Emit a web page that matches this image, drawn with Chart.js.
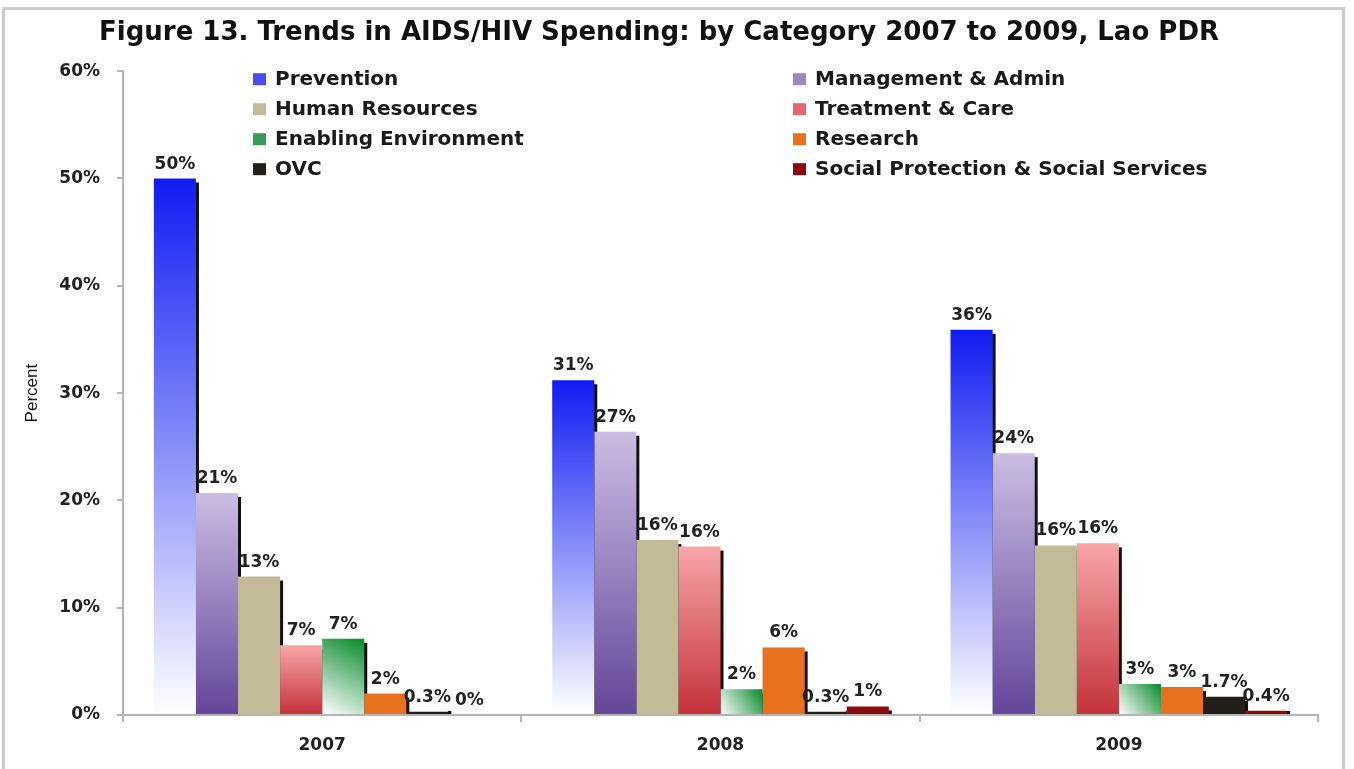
<!DOCTYPE html>
<html><head><meta charset="utf-8">
<script src="https://cdn.jsdelivr.net/npm/chart.js@4.4.0/dist/chart.umd.min.js"></script>
<style>
html,body{margin:0;padding:0;background:#fff;}
#wrap{position:relative;width:1354px;height:769px;overflow:hidden;background:#fff;}
#frame{position:absolute;left:2px;top:7px;width:1343px;height:800px;border:3px solid #cbcbcb;box-sizing:border-box;}
canvas{position:absolute;left:0;top:0;}
</style></head><body>
<div id="wrap"><div id="frame"></div><canvas id="c" width="1354" height="769"></canvas></div>
<script>
// ---- data ----
const years = ['2007', '2008', '2009'];
const seriesNames = ['Prevention', 'Management & Admin', 'Human Resources', 'Treatment & Care',
  'Enabling Environment', 'Research', 'OVC', 'Social Protection & Social Services'];
const prevention       = [50.0, 31.2, 35.9];
const managementAdmin  = [20.7, 26.4, 24.4];
const humanResources   = [12.9, 16.3, 15.8];
const treatmentCare    = [6.5, 15.7, 16.0];
const enablingEnv      = [7.1, 2.4, 2.9];
const research         = [2.0, 6.3, 2.6];
const ovc              = [0.3, 0.3, 1.7];
const socialProtection = [0.0, 0.8, 0.4];
const preventionLabels       = ['50%', '31%', '36%'];
const managementAdminLabels  = ['21%', '27%', '24%'];
const humanResourcesLabels   = ['13%', '16%', '16%'];
const treatmentCareLabels    = ['7%', '16%', '16%'];
const enablingEnvLabels      = ['7%', '2%', '3%'];
const researchLabels         = ['2%', '6%', '3%'];
const ovcLabels              = ['0.3%', '0.3%', '1.7%'];
const socialProtectionLabels = ['0%', '1%', '0.4%'];
const yTickValues = [0, 10, 20, 30, 40, 50, 60];
const chartTitle = 'Figure 13. Trends in AIDS/HIV Spending: by Category 2007 to 2009, Lao PDR';

const seriesValues = [prevention, managementAdmin, humanResources, treatmentCare, enablingEnv, research, ovc, socialProtection];
const seriesLabels = [preventionLabels, managementAdminLabels, humanResourcesLabels, treatmentCareLabels, enablingEnvLabels, researchLabels, ovcLabels, socialProtectionLabels];

// ---- styles ----
// gradient: [type, colorA, colorB]  'v' = top->bottom, 'd' = top-right -> bottom-left, 's' = solid
const fills = [
  ['v', '#0f1cf2', '#ffffff'],
  ['v', '#cbbde3', '#64469a'],
  ['s', '#c3bb97'],
  ['v', '#f7a6a8', '#c4323a'],
  ['d', '#078a2c', '#ffffff'],
  ['s', '#e8711f'],
  ['s', '#221e19'],
  ['s', '#8a0a0e']
];
const legendColors = ['#4a4cf4', '#9c86c4', '#c3bb97', '#e0686e', '#3a9c5a', '#e8711f', '#221e19', '#8a0a0e'];
const FONT = 'DejaVu Sans';

const barStylePlugin = {
  id: 'barStyle',
  beforeDatasetsDraw(chart) {
    const c = chart.ctx;
    chart.data.datasets.forEach((ds, di) => {
      const meta = chart.getDatasetMeta(di);
      meta.data.forEach((el) => {
        const f = fills[di];
        const left = el.x - el.width / 2, right = el.x + el.width / 2;
        let bg;
        if (f[0] === 's' || el.base - el.y < 1) bg = f[1];
        else if (f[0] === 'v') {
          bg = c.createLinearGradient(0, el.y, 0, el.base);
          bg.addColorStop(0, f[1]); bg.addColorStop(1, f[2]);
        } else {
          bg = c.createLinearGradient(right, el.y, left, el.base);
          bg.addColorStop(0, f[1]); bg.addColorStop(1, f[2]);
        }
        el.options = Object.assign({}, el.options, {backgroundColor: bg});
      });
    });
    // drop shadows (drawn before bars so next bar covers them)
    c.save();
    c.fillStyle = '#111';
    chart.data.datasets.forEach((ds, di) => {
      const meta = chart.getDatasetMeta(di);
      meta.data.forEach((el) => {
        if (el.base - el.y < 0.5) return;
        const right = el.x + el.width / 2;
        const top = Math.min(el.y + 4, el.base - 3);
        c.fillRect(right - 0.5, top, 3.5, el.base - top);
      });
    });
    c.restore();
  },
  afterDatasetsDraw(chart) {
    const c = chart.ctx;
    c.save();
    c.font = 'bold 17px "' + FONT + '"';
    c.fillStyle = '#222';
    c.textAlign = 'center';
    c.textBaseline = 'alphabetic';
    chart.data.datasets.forEach((ds, di) => {
      const meta = chart.getDatasetMeta(di);
      meta.data.forEach((el, i) => {
        c.fillText(seriesLabels[di][i], el.x, el.y - 10);
      });
    });
    c.restore();
  },
  afterDraw(chart) {
    const c = chart.ctx;
    const a = chart.chartArea;
    c.save();
    c.font = 'bold 20px "' + FONT + '"';
    c.textAlign = 'left';
    c.textBaseline = 'middle';
    const colX = [a.left + 130, a.left + 670];
    const rowY = [a.top + 8, a.top + 38, a.top + 68, a.top + 98];
    seriesNames.forEach((n, i) => {
      const x = colX[i % 2], y = rowY[Math.floor(i / 2)];
      c.fillStyle = legendColors[i];
      c.fillRect(x, y - 6, 13, 12);
      c.fillStyle = '#1a1a1a';
      c.fillText(n, x + 22, y + 1);
    });
    c.restore();
  }
};

const datasets = seriesNames.map((n, i) => ({
  label: n,
  data: seriesValues[i],
  backgroundColor: fills[i][1],
  borderWidth: 0,
  barPercentage: 1,
  categoryPercentage: 0.845
}));

new Chart(document.getElementById('c'), {
  type: 'bar',
  data: {labels: years, datasets},
  plugins: [barStylePlugin],
  options: {
    responsive: false,
    animation: false,
    layout: {padding: {left: 0, right: 36, top: 0, bottom: 0}},
    plugins: {
      legend: {display: false},
      tooltip: {enabled: false},
      title: {
        display: true, text: chartTitle, color: '#111',
        font: {family: FONT, size: 26, weight: 'bold'},
        padding: {top: 18, bottom: 22}
      }
    },
    scales: {
      x: {
        grid: {display: true, drawOnChartArea: false, drawTicks: true, tickLength: 7, color: '#b5b5b5', lineWidth: 2, offset: true},
        border: {color: '#b5b5b5', width: 2},
        ticks: {color: '#222', font: {family: FONT, size: 17, weight: 'bold'}, padding: 13},
        afterFit: (s) => { s.height = 54; }
      },
      y: {
        min: 0, max: 60,
        afterBuildTicks: (s) => { s.ticks = yTickValues.map(v => ({value: v})); },
        grid: {display: true, drawOnChartArea: false, drawTicks: true, tickLength: 6, color: '#b5b5b5', lineWidth: 2},
        border: {color: '#b5b5b5', width: 2},
        ticks: {color: '#222', font: {family: FONT, size: 17, weight: 'bold'}, padding: 17, callback: (v) => v + '%'},
        title: {display: true, text: 'Percent', color: '#111', font: {family: 'Liberation Sans', size: 17}, padding: {top: 22, bottom: 0}},
        afterFit: (s) => { s.width = 123; }
      }
    }
  }
});
</script>
</body></html>
